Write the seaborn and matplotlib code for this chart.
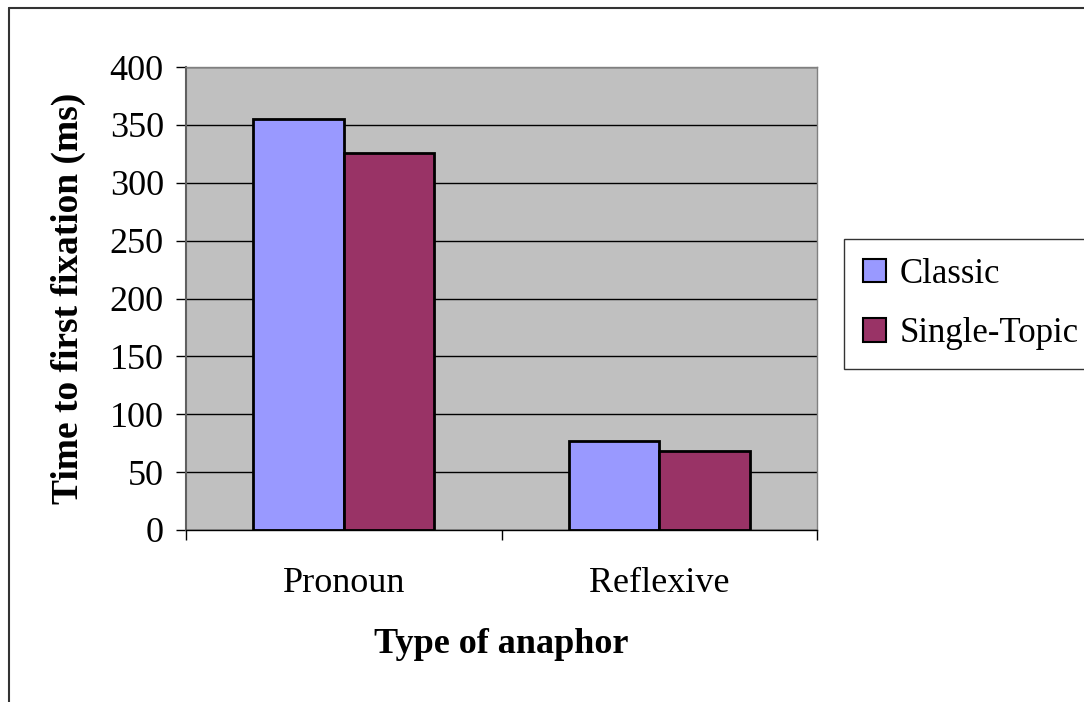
import pandas as pd
import seaborn as sns
import matplotlib.pyplot as plt
from matplotlib.lines import Line2D
from matplotlib.patches import Patch

# data
anaphor_types = ['Pronoun', 'Reflexive']
conditions = ['Classic', 'Single-Topic']
classic_ms = [355, 77]
single_topic_ms = [326, 68]
y_ticks = [0, 50, 100, 150, 200, 250, 300, 350, 400]

df = pd.DataFrame({
    'Type': anaphor_types * 2,
    'Condition': [conditions[0]] * 2 + [conditions[1]] * 2,
    'ms': classic_ms + single_topic_ms,
})

sns.set_style('white')
plt.rcParams['font.family'] = ['Liberation Serif', 'DejaVu Serif']
plt.rcParams['text.color'] = 'black'
plt.rcParams['axes.labelcolor'] = 'black'
plt.rcParams['xtick.color'] = 'black'
plt.rcParams['ytick.color'] = 'black'

colors = {'Classic': '#9999FF', 'Single-Topic': '#993366'}

fig = plt.figure(figsize=(10.84, 7.02), dpi=100)
ax = fig.add_axes([186 / 1084, 172 / 702, 631 / 1084, 463 / 702])
ax.set_facecolor('#C0C0C0')

sns.barplot(data=df, x='Type', y='ms', hue='Condition', order=anaphor_types,
            hue_order=conditions, palette=colors, width=0.574,
            edgecolor='black', linewidth=2, saturation=1, ax=ax, legend=False)

ax.set_xlim(-0.5, 1.5)
ax.set_ylim(0, 400)
ax.set_yticks(y_ticks)
ax.yaxis.grid(True, color='#000000', linewidth=1)
ax.set_axisbelow(True)

# category boundary ticks, labels without tick marks
ax.set_xticks([0, 1])
ax.set_xticks([-0.5, 0.5, 1.5], minor=True)
ax.tick_params(axis='x', which='major', length=0, labelsize=26, pad=27)
ax.tick_params(axis='x', which='minor', length=7, width=1, direction='out', bottom=True)
ax.tick_params(axis='y', length=7, width=1, direction='out', left=True, labelsize=26, pad=9)

for side in ['top', 'right']:
    ax.spines[side].set_color('#808080')
    ax.spines[side].set_linewidth(1)
ax.spines['left'].set_color('#606060')
ax.spines['left'].set_linewidth(1.5)
ax.spines['bottom'].set_color('black')
ax.spines['bottom'].set_linewidth(1)

ax.set_xlabel('Type of anaphor', fontsize=26, fontweight='bold', labelpad=20)
ax.set_ylabel('Time to first fixation (ms)', fontsize=27, fontweight='bold', labelpad=17)

handles = [Patch(facecolor=colors[c], edgecolor='black', linewidth=1.5, label=c) for c in conditions]
leg = fig.legend(handles=handles, loc='upper left', bbox_to_anchor=(844 / 1084, 1 - 239 / 702),
                 fontsize=25, frameon=True, fancybox=False, handlelength=0.65, handleheight=0.65,
                 handletextpad=0.4, borderpad=0.55, labelspacing=0.75, borderaxespad=0)
leg.get_frame().set_edgecolor('black')
leg.get_frame().set_linewidth(1)

# chart area frame, clipped by the image edge
fig.add_artist(Line2D([9 / 1084, 9 / 1084], [0, 1 - 8 / 702], color='#333333', linewidth=1.5))
fig.add_artist(Line2D([9 / 1084, 1], [1 - 8 / 702, 1 - 8 / 702], color='#333333', linewidth=1.5))

fig.savefig('out.png', dpi=100)
